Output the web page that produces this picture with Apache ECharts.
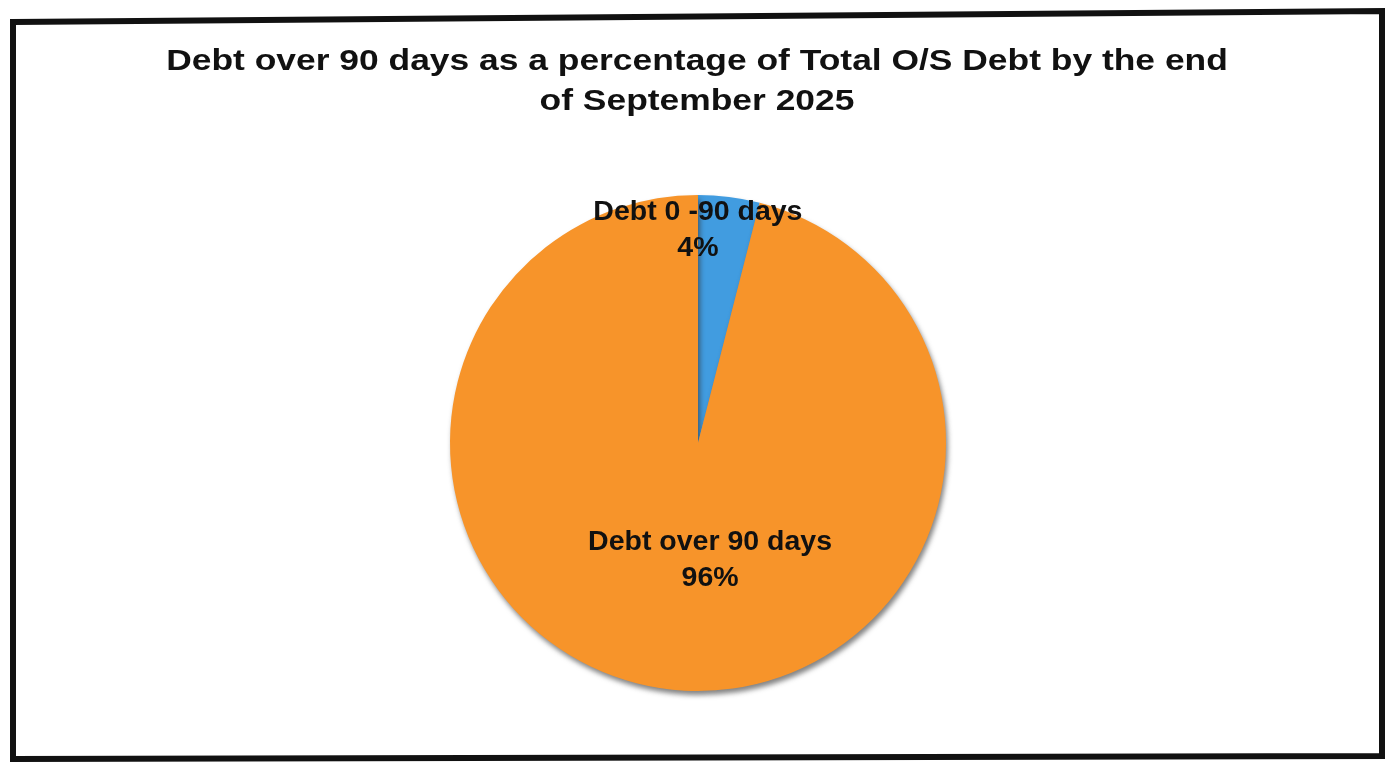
<!DOCTYPE html>
<html>
<head>
<meta charset="utf-8">
<style>
  html, body { margin: 0; padding: 0; background: #ffffff; }
  #chart { width: 1391px; height: 762px; }
</style>
<script src="https://cdn.jsdelivr.net/npm/echarts@6/dist/echarts.min.js"></script>
</head>
<body>
<div id="chart"></div>
<script>
// Debt ageing split at the end of September 2025
const categories = ['Debt 0 -90 days', 'Debt over 90 days'];
const values = [4, 96];
const sliceColors = ['#419ce0', '#f7942a'];
const titleLines = [
  'Debt over 90 days as a percentage of Total O/S Debt by the end',
  'of September 2025'
];

// Nudges that move each slice label from its default inside spot
const labelShift = [[-16, -87], [28, -9]];

const FONT = "'Liberation Sans', Arial, Helvetica, sans-serif";

const chart = echarts.init(document.getElementById('chart'), null, { renderer: 'canvas' });

// Wide bold heading, stretched sideways a little
const titleGraphics = titleLines.map((line, i) => ({
  type: 'text',
  x: 697,
  y: 62 + i * 40,
  scaleX: 1.18,
  silent: true,
  style: {
    text: line,
    font: 'bold 30px ' + FONT,
    fill: '#111111',
    textAlign: 'center',
    textVerticalAlign: 'middle'
  }
}));

const option = {
  backgroundColor: '#ffffff',
  animation: false,
  graphic: [{
    type: 'polygon',
    shape: { points: [[13, 22], [1382, 11], [1382, 756], [13, 759]] },
    style: { fill: 'none', stroke: '#111111', lineWidth: 6 },
    silent: true
  }].concat(titleGraphics),
  series: [{
    type: 'pie',
    center: [698, 443],
    radius: 248,
    startAngle: 90,
    clockwise: true,
    data: categories.map((name, i) => ({
      name: name,
      value: values[i],
      itemStyle: { color: sliceColors[i] }
    })),
    itemStyle: {
      borderWidth: 0,
      shadowColor: 'rgba(50,50,50,0.6)',
      shadowBlur: 5,
      shadowOffsetX: 2,
      shadowOffsetY: 4
    },
    label: {
      show: true,
      position: 'inside',
      formatter: '{b}\n{d}%',
      fontFamily: FONT,
      fontWeight: 'bold',
      fontSize: 28.5,
      lineHeight: 36,
      color: '#111111',
      align: 'center'
    },
    labelLine: { show: false },
    labelLayout: function (params) {
      const s = labelShift[params.dataIndex];
      return { dx: s[0], dy: s[1] };
    },
    emphasis: { disabled: true }
  }]
};

chart.setOption(option);
</script>
</body>
</html>
